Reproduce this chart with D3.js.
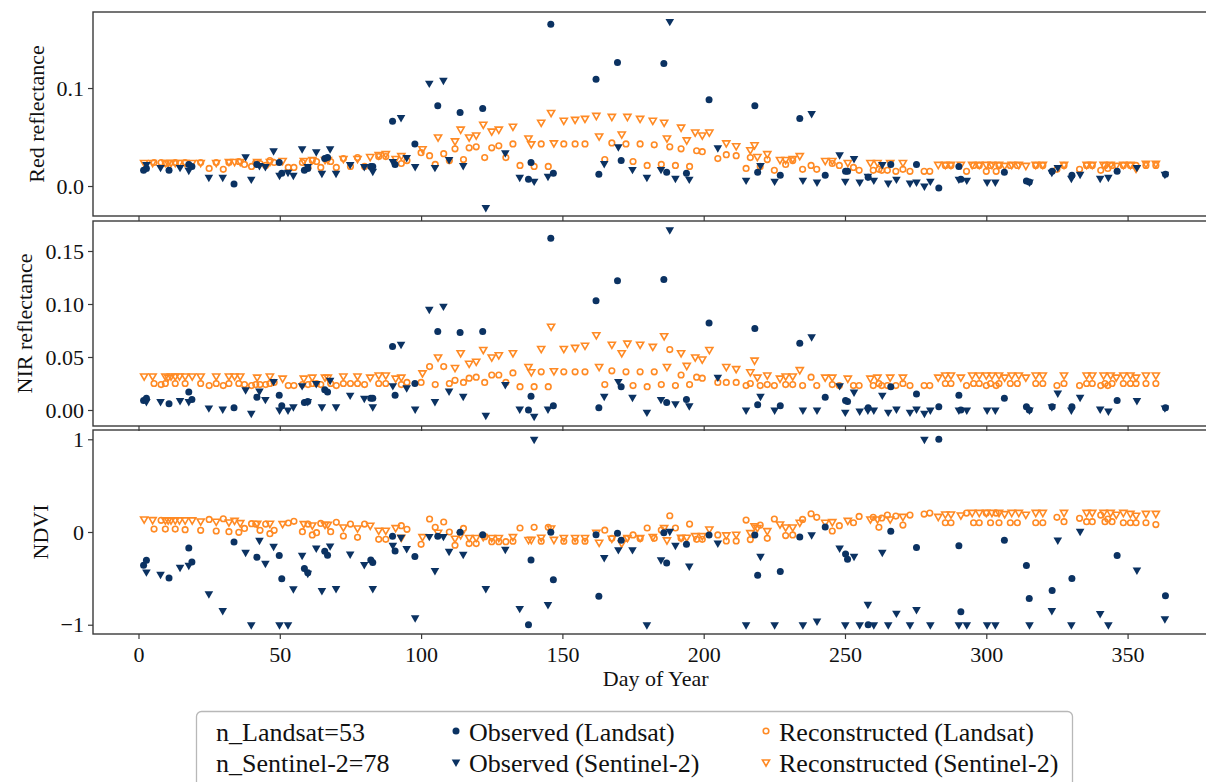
<!DOCTYPE html>
<html>
<head>
<meta charset="utf-8">
<script src="https://cdn.jsdelivr.net/npm/d3@7"></script>
<style>
  body { margin: 0; background: #fff; }
  svg { display: block; font-family: "Liberation Serif", "Times New Roman", serif; }
</style>
</head>
<body>
<div id="chart"></div>
<script>
// ---- observed Landsat ----
const lsDays = [1.8,2.8,10.8,17.8,18.9,33.8,41.9,49.8,50.7,58.7,59.9,65.9,66.9,82.2,82.9,89.9,90.8,97.8,105.9,113.8,121.8,138,138.9,145.9,146.8,161.9,162.9,169.5,170.8,185.9,186.9,193.9,201.9,218.1,219.1,227.1,234,243,250.2,250.9,258.2,266.2,275.3,283.2,290.3,291,306.4,314.2,315.2,323.3,330.3,346.3,363.4];
const lsRed = [.016,.018,.016,.022,.020,.002,.022,.024,.013,.016,.018,.028,.029,.020,.020,.066,.022,.043,.082,.075,.079,.007,.024,.165,.013,.109,.012,.126,.026,.125,.014,.013,.088,.082,.014,.011,.069,.011,.015,.015,.009,.022,.022,-.002,.020,.007,.014,.005,.004,.015,.011,.015,.012];
const lsNir = [.009,.011,.006,.017,.010,.002,.012,.014,.004,.007,.008,.019,.017,.011,.011,.060,.014,.025,.074,.073,.074,.000,.013,.162,.004,.103,.002,.122,.022,.123,.007,.010,.082,.077,.005,.004,.063,.012,.009,.008,.002,.022,.015,.003,.014,.000,.011,.003,.000,.003,.003,.009,.002];
const lsNdvi = [-.358,-.305,-.495,-.172,-.323,-.108,-.272,-.254,-.505,-.394,-.44,-.208,-.251,-.301,-.33,-.047,-.204,-.265,-.047,-.004,-.029,-1,-.301,-.004,-.516,-.029,-.692,-.014,-.09,-.007,-.333,-.133,-.032,-.032,-.466,-.427,-.054,.054,-.237,-.294,-1,.007,-.168,1,-.147,-.86,-.09,-.362,-.717,-.631,-.502,-.254,-.688];

// ---- observed Sentinel-2 ----
const s2Days = [2.8,7.8,14.7,17.8,24.9,29.8,37.9,39.9,42.8,44.9,47.8,49.9,52.9,54.8,57.9,59.9,62.9,64.9,67.8,69.9,74.9,79.9,82.9,90,92.9,94.9,97.9,102.9,104.9,107.9,109.9,114.9,122.9,129.8,134.9,140,144.9,164.8,169.8,174.8,179.9,184.9,188,190,194.9,205,215,220.1,225.1,235.1,238.2,240.1,248.1,250.1,253.2,255.2,258.1,260.2,263.2,265.3,268.2,273,275.3,278.1,280.2,290.3,293.1,300.3,303.2,315.3,323.2,325.3,330.1,333.2,340.3,343.2,353.3,363.2];
const s2Red = [.022,.019,.019,.016,.009,.009,.030,.007,.021,.020,.036,.011,.014,.011,.038,.020,.035,.013,.038,.013,.022,.020,.015,.025,.070,.029,.020,.105,.019,.108,.027,.021,-.022,.034,.009,.005,.010,.023,.040,.017,.009,.017,.168,.008,.007,.039,.006,.021,.005,.006,.074,.004,.032,.005,.028,.004,.010,.006,.022,.003,.007,.003,.004,.000,.005,.007,.006,.004,.004,.004,.014,.019,.008,.012,.008,.009,.019,.012];
const s2Nir = [.008,.008,.009,.008,.002,.001,.019,-.003,.018,.010,.027,.000,.000,.003,.023,.008,.025,.003,.028,.003,.014,.011,.003,.023,.062,.021,.001,.095,.008,.098,.018,.013,-.005,.024,.001,-.006,.001,.013,.027,.012,-.002,.010,.170,.006,.004,.031,.000,.013,.000,.000,.069,.000,.023,-.002,.017,-.001,.000,.000,.014,-.002,.001,-.002,.001,-.003,.000,.000,.000,.000,.000,.000,.003,.016,.000,.012,.001,-.001,.009,.002];
const s2Ndvi = [-.43,-.455,-.38,-.358,-.667,-.846,-.219,-1,-.09,-.337,-.154,-1,-1,-.613,-.251,-.444,-.172,-.631,-.15,-.609,-.237,-.351,-.609,-.143,-.057,-.179,-.925,-.047,-.416,-.047,-.208,-.24,-.609,-.186,-.824,1,-.781,-.276,-.19,-.19,-1,-.30,.007,-.143,-.366,-.118,-1,-.262,-1,-1,-.029,-.96,-.172,-1,-.262,-1,-.78,-1,-.219,-1,-.875,-1,-.835,1,-1,-1,-1,-1,-1,-1,-.846,-.086,-1,.007,-.878,-1,-.41,-.935];

// ---- reconstructed Landsat ----
const lsRecDays = [5.5,8,9.5,13,16.5,22,25,27.5,30,32,35.5,37.5,40,41.5,43,45,46.5,48,53,55,58,60,61.5,63,64.5,68,70,72.5,75,77.5,80,85,87.5,93,95,100,103,105,108,110,112,115,117,119.5,122.5,125,127.5,130,132.5,135,140,142.5,145,150.5,154.5,158,165,167.5,172.5,175,177.5,180,182.5,185,188,190,192,195,197.5,199.5,205,208,211.5,215,216.5,220,222.5,225,229,231.5,235,238,240,245.5,248,253,255,260,262,263,265,268,270.5,273,278,280,285.5,287.5,293,295.5,297.5,300,301.5,303.5,304.5,308.5,311,317.5,320,325,327.5,333,335.5,337.5,340.5,342,343,344.5,348.5,351,353,356.5,360];
const lsRecRed = [.024,.024,.023,.024,.024,.024,.018,.024,.017,.024,
  .025,.022,.020,.024,.023,.021,.026,.024,.019,.019,
  .024,.019,.026,.025,.019,.025,.019,.028,.020,.029,
  .020,.030,.030,.023,.026,.034,.031,.022,.033,.026,
  .038,.027,.039,.040,.029,.039,.041,.029,.043,.021,
  .020,.043,.020,.043,.043,.043,.027,.044,.043,.025,
  .043,.021,.042,.022,.040,.021,.038,.020,.036,.035,
  .028,.032,.031,.018,.029,.020,.027,.016,.022,.026,
  .017,.021,.017,.023,.021,.019,.016,.016,.017,.016,
  .016,.015,.017,.015,.015,.015,.021,.021,.015,.021,
  .021,.015,.021,.015,.021,.021,.021,.021,.021,.017,
  .021,.017,.021,.021,.016,.021,.018,.021,.021,.021,
  .021,.021,.021];
const lsRecNir = [.025,.024,.025,.025,.025,.025,.023,.025,.023,.025,
  .025,.024,.023,.024,.024,.024,.025,.026,.023,.023,
  .024,.024,.025,.025,.024,.025,.023,.025,.025,.025,
  .024,.025,.025,.024,.026,.026,.041,.024,.041,.025,
  .028,.026,.030,.031,.026,.033,.033,.026,.035,.022,
  .022,.036,.022,.036,.036,.036,.024,.037,.036,.023,
  .036,.022,.036,.024,.057,.023,.033,.024,.031,.030,
  .026,.026,.026,.023,.025,.023,.024,.023,.024,.024,
  .023,.031,.023,.024,.023,.023,.023,.023,.025,.023,
  .023,.023,.025,.023,.023,.023,.025,.025,.023,.025,
  .025,.023,.025,.023,.025,.025,.025,.025,.025,.023,
  .025,.023,.025,.025,.023,.025,.023,.025,.025,.025,
  .025,.025,.025];
const lsRecNdvi = [.032,.126,.032,.032,.025,.018,.136,.011,.143,.004,
  -.004,.039,.09,.086,.018,.086,-.018,.018,.097,.115,
  .004,.086,-.032,-.007,.093,.004,.104,-.043,.086,-.057,
  .086,-.079,-.079,.068,.029,-.133,.14,.05,.108,0,
  -.143,.039,-.125,-.125,-.05,-.104,-.104,-.104,-.1,.043,
  .05,-.1,.05,-.1,-.1,-.1,.02,-.068,-.07,-.032,
  -.07,.043,-.068,.021,.175,.043,-.068,.086,-.079,-.079,
  -.032,-.097,-.097,.129,-.082,.075,-.068,.14,-.039,-.032,
  .136,.197,.158,.011,.068,.10,.168,.158,.05,.151,
  .183,.172,.075,.183,.193,.204,.10,.10,.204,.10,
  .10,.204,.10,.204,.10,.10,.10,.10,.10,.158,
  .111,.147,.111,.111,.183,.111,.14,.111,.10,.10,
  .10,.10,.08];

// ---- reconstructed Sentinel-2 ----
const s2RecDays = [2,5,9.5,10.5,11.5,13,14.5,16.5,19,22,27.5,32,34,36,42,46.5,51,58.5,61.5,66,67,72.5,77.5,82,85,87.5,91,93,100.5,106,112,114,117,119.5,122,125,127.5,132.5,138,139,142.5,146,147,150.5,154.5,158,162,163,167.5,171,173,177.5,182,186,187,192,194,197,199.5,202,208,211.5,216.5,218,219,222.5,227,229,231.5,234,243,245.5,251,259,261.5,266,270.5,283,285.5,287.5,291,295,297.5,300,302,304.5,306.5,309,311.5,314,317.5,320,327.5,335.5,337.5,341.5,344,346,348.5,351,353,356.5,360];
const s2RecRed = [.024,.024,.024,.024,.024,.024,.024,.024,.024,.024,
  .024,.025,.025,.025,.025,.025,.026,.026,.027,.027,
  .027,.028,.028,.030,.032,.033,.028,.031,.038,.050,
  .046,.058,.050,.052,.063,.056,.058,.061,.049,.043,
  .065,.075,.044,.067,.068,.069,.072,.051,.071,.053,
  .071,.069,.067,.065,.049,.060,.047,.055,.052,.055,
  .044,.041,.037,.042,.030,.033,.027,.027,.028,.031,
  .026,.026,.024,.024,.024,.024,.024,.022,.022,.022,
  .022,.022,.022,.022,.022,.022,.021,.022,.022,.021,
  .022,.022,.022,.022,.022,.022,.022,.021,.022,.022,
  .018,.023,.023];
const s2RecNir = [.032,.032,.032,.031,.032,.032,.032,.032,.032,.032,
  .032,.032,.032,.032,.031,.032,.030,.030,.031,.031,
  .031,.032,.032,.031,.033,.033,.030,.031,.035,.050,
  .040,.054,.044,.046,.057,.050,.052,.054,.041,.036,
  .058,.079,.037,.058,.059,.061,.071,.041,.062,.054,
  .063,.062,.060,.070,.041,.054,.042,.050,.048,.057,
  .041,.039,.036,.047,.031,.033,.030,.032,.032,.038,
  .031,.031,.030,.030,.031,.031,.031,.031,.033,.033,
  .031,.033,.033,.033,.033,.033,.031,.033,.033,.031,
  .033,.033,.033,.033,.033,.033,.033,.031,.033,.033,
  .031,.033,.033];
const s2RecNdvi = [.14,.133,.13,.13,.13,.13,.13,.13,.13,.118,
  .115,.108,.125,.10,.093,.093,.09,.09,.075,.082,
  .082,.054,.043,.072,.018,.018,.047,-.057,-.05,-.004,
  -.068,-.029,-.06,-.06,-.05,-.06,-.06,-.05,-.082,-.08,
  -.057,.043,-.08,-.06,-.06,-.06,-.004,-.111,-.068,-.12,
  -.06,-.06,-.05,.047,-.086,-.057,-.057,-.04,-.04,.032,
  -.032,-.025,-.007,.065,.047,.014,.086,.054,.054,.104,
  .104,.111,.125,.14,.14,.14,.168,.168,.193,.193,
  .183,.211,.211,.211,.211,.211,.197,.211,.211,.19,
  .211,.211,.211,.211,.211,.211,.211,.19,.211,.20,
  .18,.20,.20];

// ---- axes / legend text ----
const xTicks = [0, 50, 100, 150, 200, 250, 300, 350];
const countLabels = ["n_Landsat=53", "n_Sentinel-2=78"];
const legendLabels = ["Observed (Landsat)", "Observed (Sentinel-2)", "Reconstructed (Landsat)", "Reconstructed (Sentinel-2)"];

var width = 1206, height = 782;
var navy = "#0b3262", orange = "#ff8a24", spine = "#3a3a3a";

var svg = d3.select("#chart").append("svg")
    .attr("width", width)
    .attr("height", height);

var x = d3.scaleLinear().domain([-16.1, 382.1]).range([93, 1218.3]);

var panels = [
    {label: "Red reflectance", top: 12, bottom: 216, domain: [-0.0306, 0.1776], ticks: [0, 0.1], fmt: d3.format(".1f"), labelX: 36,
     obsL: lsRed, obsS: s2Red, recL: lsRecRed, recS: s2RecRed},
    {label: "NIR reflectance", top: 221, bottom: 426, domain: [-0.0151, 0.1783], ticks: [0, 0.05, 0.1, 0.15], fmt: d3.format(".2f"), labelX: 24,
     obsL: lsNir, obsS: s2Nir, recL: lsRecNir, recS: s2RecNir},
    {label: "NDVI", top: 430, bottom: 634, domain: [-1.1, 1.1], ticks: [-1, 0, 1], fmt: d3.format("d"), labelX: 40,
     obsL: lsNdvi, obsS: s2Ndvi, recL: lsRecNdvi, recS: s2RecNdvi}
];

var tri = d3.symbol().type(d3.symbolTriangle);

function zip(days, vals) {
    return days.map(function(d, i) { return {day: d, v: vals[i]}; });
}

function drawPanel(p, isLast) {
    var y = d3.scaleLinear().domain(p.domain).range([p.bottom, p.top]);
    var g = svg.append("g");

    // clip markers to the axes box
    var clipId = "clip-" + p.top;
    svg.append("clipPath").attr("id", clipId)
        .append("rect")
        .attr("x", x.range()[0]).attr("y", p.top)
        .attr("width", x.range()[1] - x.range()[0]).attr("height", p.bottom - p.top);
    var marks = g.append("g").attr("clip-path", "url(#" + clipId + ")");

    // reconstructed first, observed on top
    marks.selectAll(".recL")
        .data(zip(lsRecDays, p.recL))
        .join("circle")
        .attr("class", "recL")
        .attr("cx", function(d) { return x(d.day); })
        .attr("cy", function(d) { return y(d.v); })
        .attr("r", 2.8)
        .attr("fill", "none")
        .attr("stroke", orange)
        .attr("stroke-width", 1.6);

    marks.selectAll(".recS")
        .data(zip(s2RecDays, p.recS))
        .join("path")
        .attr("class", "recS")
        .attr("d", tri.size(22))
        .attr("transform", function(d) { return "translate(" + x(d.day) + "," + y(d.v) + ") rotate(180)"; })
        .attr("fill", "none")
        .attr("stroke", orange)
        .attr("stroke-width", 1.6);

    marks.selectAll(".obsL")
        .data(zip(lsDays, p.obsL))
        .join("circle")
        .attr("class", "obsL")
        .attr("cx", function(d) { return x(d.day); })
        .attr("cy", function(d) { return y(d.v); })
        .attr("r", 3.5)
        .attr("fill", navy);

    marks.selectAll(".obsS")
        .data(zip(s2Days, p.obsS))
        .join("path")
        .attr("class", "obsS")
        .attr("d", tri.size(32))
        .attr("transform", function(d) { return "translate(" + x(d.day) + "," + y(d.v) + ") rotate(180)"; })
        .attr("fill", navy);

    // spines
    g.append("rect")
        .attr("x", x.range()[0]).attr("y", p.top)
        .attr("width", x.range()[1] - x.range()[0]).attr("height", p.bottom - p.top)
        .attr("fill", "none")
        .attr("stroke", spine)
        .attr("stroke-width", 1.4);

    var yAxis = g.append("g")
        .attr("transform", "translate(" + x.range()[0] + ",0)")
        .call(d3.axisLeft(y).tickValues(p.ticks).tickFormat(p.fmt).tickSize(5).tickPadding(4));
    var xAxis = g.append("g")
        .attr("transform", "translate(0," + p.bottom + ")")
        .call(d3.axisBottom(x).tickValues(xTicks).tickFormat(isLast ? d3.format("d") : "").tickSize(5).tickPadding(7));

    [yAxis, xAxis].forEach(function(a) {
        a.select(".domain").remove();
        a.selectAll(".tick line").attr("stroke", spine).attr("stroke-width", 1.2);
        a.selectAll(".tick text")
            .attr("fill", "#111")
            .style("font-family", "'Liberation Serif', 'Times New Roman', serif")
            .style("font-size", "22px");
    });

    g.append("text")
        .attr("transform", "translate(" + p.labelX + "," + (p.top + p.bottom) / 2 + ") rotate(-90)")
        .attr("text-anchor", "middle")
        .attr("dy", "0.35em")
        .attr("fill", "#111")
        .style("font-size", "22px")
        .text(p.label);

    if (isLast) {
        g.append("text")
            .attr("x", (x.range()[0] + x.range()[1]) / 2)
            .attr("y", 686)
            .attr("text-anchor", "middle")
            .attr("fill", "#111")
            .style("font-size", "22px")
            .text("Day of Year");
    }
}

panels.forEach(function(p, i) {
    drawPanel(p, i === panels.length - 1);
});

// legend
var legend = svg.append("g");
legend.append("rect")
    .attr("x", 196.5).attr("y", 711.5)
    .attr("width", 876).attr("height", 110)
    .attr("rx", 5)
    .attr("fill", "#fff")
    .attr("stroke", "#b8b8b8")
    .attr("stroke-width", 1.3);

var rowY = [741, 772];
legend.selectAll(".count")
    .data(countLabels)
    .join("text")
    .attr("class", "count")
    .attr("x", 216)
    .attr("y", function(d, i) { return rowY[i]; })
    .attr("fill", "#111")
    .style("font-size", "26px")
    .text(function(d) { return d; });

var legendItems = [
    {label: legendLabels[0], col: 456, row: 0, kind: "obsL"},
    {label: legendLabels[1], col: 456, row: 1, kind: "obsS"},
    {label: legendLabels[2], col: 766, row: 0, kind: "recL"},
    {label: legendLabels[3], col: 766, row: 1, kind: "recS"}
];

legendItems.forEach(function(it) {
    var cy = rowY[it.row] - 10;
    if (it.kind === "obsL") {
        legend.append("circle").attr("cx", it.col).attr("cy", cy).attr("r", 3.5).attr("fill", navy);
    } else if (it.kind === "obsS") {
        legend.append("path").attr("d", tri.size(32))
            .attr("transform", "translate(" + it.col + "," + cy + ") rotate(180)").attr("fill", navy);
    } else if (it.kind === "recL") {
        legend.append("circle").attr("cx", it.col).attr("cy", cy).attr("r", 2.8)
            .attr("fill", "none").attr("stroke", orange).attr("stroke-width", 1.6);
    } else {
        legend.append("path").attr("d", tri.size(22))
            .attr("transform", "translate(" + it.col + "," + cy + ") rotate(180)")
            .attr("fill", "none").attr("stroke", orange).attr("stroke-width", 1.6);
    }
    legend.append("text")
        .attr("x", it.col + 13)
        .attr("y", rowY[it.row])
        .attr("fill", "#111")
        .style("font-size", "26px")
        .text(it.label);
});
</script>
</body>
</html>
